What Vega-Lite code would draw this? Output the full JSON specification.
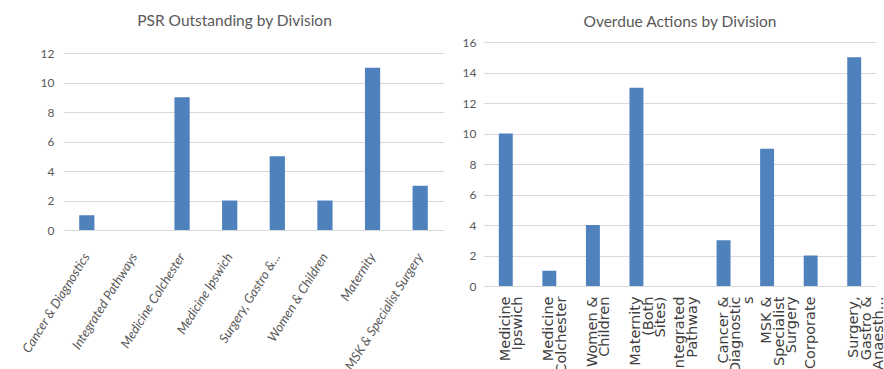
{
  "$schema": "https://vega.github.io/schema/vega-lite/v6.json",
  "background": "white",
  "padding": {"left": 20, "top": 13, "right": 5, "bottom": 0},
  "spacing": 18,
  "align": "none",
  "datasets": {
    "psr": [
      {"division": "Cancer & Diagnostics", "count": 1},
      {"division": "Integrated Pathways", "count": 0},
      {"division": "Medicine Colchester", "count": 9},
      {"division": "Medicine Ipswich", "count": 2},
      {"division": "Surgery, Gastro &...", "count": 5},
      {"division": "Women & Children", "count": 2},
      {"division": "Maternity", "count": 11},
      {"division": "MSK & Specialist Surgery", "count": 3}
    ],
    "overdue": [
      {"division": "Medicine|Ipswich", "count": 10},
      {"division": "Medicine|Colchester", "count": 1},
      {"division": "Women &|Children", "count": 4},
      {"division": "Maternity|(Both|Sites)", "count": 13},
      {"division": "Integrated|Pathway", "count": 0},
      {"division": "Cancer &|Diagnostic|s", "count": 3},
      {"division": "MSK &|Specialist|Surgery", "count": 9},
      {"division": "Corporate", "count": 2},
      {"division": "Surgery,|Gastro &|Anaesth...", "count": 15}
    ]
  },
  "config": {
    "view": {"stroke": null},
    "font": "Lato",
    "title": {"font": "Lato", "fontSize": 15.5, "fontWeight": "normal", "color": "#595959", "anchor": "middle"},
    "axis": {"labelColor": "#595959", "gridColor": "#d9d9d9", "domainColor": "#d9d9d9", "ticks": false, "title": null}
  },
  "hconcat": [
    {
      "width": 381,
      "height": 188,
      "title": {"text": "PSR Outstanding by Division", "offset": 13, "dx": -19},
      "data": {"name": "psr"},
      "mark": {"type": "bar", "color": "#4f81bd"},
      "encoding": {
        "x": {
          "field": "division", "type": "nominal", "sort": null,
          "scale": {"paddingInner": 0.68, "paddingOuter": 0.34},
          "axis": {"labelAngle": -58, "labelFontStyle": "italic", "labelFontSize": 13, "labelPadding": 24, "labelFont": "Lato", "labelLimit": 200}
        },
        "y": {
          "field": "count", "type": "quantitative",
          "scale": {"domain": [0, 12.75], "nice": false},
          "axis": {"values": [0, 2, 4, 6, 8, 10, 12], "domain": false, "labelFontSize": 12, "labelPadding": 9, "labelFont": "Lato"}
        }
      }
    },
    {
      "width": 392,
      "height": 244,
      "title": {"text": "Overdue Actions by Division", "offset": 6},
      "data": {"name": "overdue"},
      "mark": {"type": "bar", "color": "#4f81bd"},
      "encoding": {
        "x": {
          "field": "division", "type": "nominal", "sort": null,
          "scale": {"paddingInner": 0.68, "paddingOuter": 0.34},
          "axis": {"labelAngle": -90, "labelExpr": "split(datum.label, '|')", "labelFont": "DejaVu Sans", "labelFontSize": 14.5, "labelLineHeight": 12.5, "labelPadding": 10, "labelColor": "#404040", "labelLimit": 200}
        },
        "y": {
          "field": "count", "type": "quantitative",
          "scale": {"domain": [0, 16]},
          "axis": {"values": [0, 2, 4, 6, 8, 10, 12, 14, 16], "domain": false, "labelFontSize": 12, "labelPadding": 8, "labelFont": "Lato"}
        }
      }
    }
  ]
}
